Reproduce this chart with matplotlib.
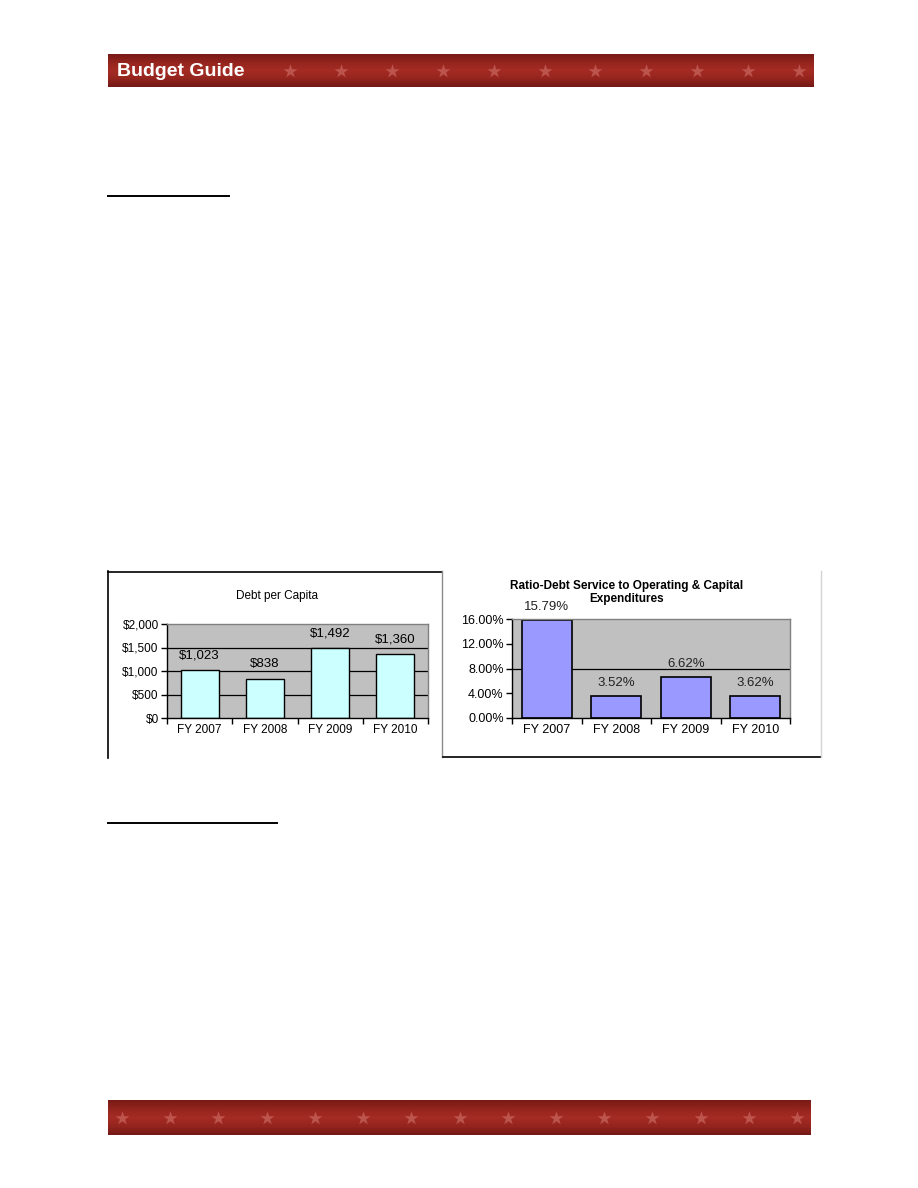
import numpy as np
import matplotlib
matplotlib.use("Agg")
import matplotlib.pyplot as plt
from matplotlib.colors import LinearSegmentedColormap

plt.rcParams["font.family"] = ["Liberation Sans", "DejaVu Sans"]

# data
years = ["FY 2007", "FY 2008", "FY 2009", "FY 2010"]
debt_per_capita = [1023, 838, 1492, 1360]
debt_labels = ["$1,023", "$838", "$1,492", "$1,360"]
debt_ratio = [15.79, 3.52, 6.62, 3.62]
ratio_labels = ["15.79%", "3.52%", "6.62%", "3.62%"]

W, H = 918, 1188
fig = plt.figure(figsize=(W / 100, H / 100), dpi=100)


def px_axes(x0, y0, x1, y1, **kw):
    return fig.add_axes([x0 / W, 1 - y1 / H, (x1 - x0) / W, (y1 - y0) / H], **kw)


# page overlay in pixel coordinates
page = fig.add_axes([0, 0, 1, 1], zorder=0)
page.set_xlim(0, W)
page.set_ylim(H, 0)
page.axis("off")

banner_cmap = LinearSegmentedColormap.from_list(
    "banner", ["#781a16", "#94241e", "#a52c24", "#94241e", "#741915"])


def banner(x0, y0, x1, y1, n_stars, star_start):
    ax = px_axes(x0, y0, x1, y1, zorder=1)
    grad = np.linspace(0, 1, 64).reshape(-1, 1)
    ax.imshow(grad, cmap=banner_cmap, aspect="auto", extent=(x0, x1, y1, y0))
    ax.set_xlim(x0, x1)
    ax.set_ylim(y1, y0)
    ax.axis("off")
    xs = np.linspace(star_start, x1 - 14, n_stars)
    ax.scatter(xs, np.full(n_stars, (y0 + y1) / 2), marker="*", s=110,
               color="#c8675f", alpha=0.7, linewidths=0)
    return ax


hdr = banner(108, 54, 813, 87, 11, 290)
hdr.text(117, 71, "Budget Guide", color="white", fontsize=14,
         fontweight="bold", va="center", ha="left")
banner(108, 1100, 811, 1135, 15, 122)

# section underlines
page.plot([108, 229], [196, 196], color="black", lw=1.4)
page.plot([108, 277], [823, 823], color="black", lw=1.4)

# chart frames
page.plot([108, 108], [571, 758], color="black", lw=1.2)
page.plot([108, 442], [572, 572], color="black", lw=1.2)
page.plot([442, 442], [571, 757], color="#8a8a8a", lw=1.0)
page.plot([443, 821], [757, 757], color="black", lw=1.2)
page.plot([821, 821], [571, 757], color="#d4d4d4", lw=1.0)


def style_axes(ax, n, fs):
    ax.set_facecolor("#c0c0c0")
    ax.set_xlim(-0.5, n - 0.5)
    ax.set_xticks(range(n))
    ax.set_xticklabels(years, fontsize=fs)
    ax.set_xticks(np.arange(-0.5, n, 1.0), minor=True)
    ax.tick_params(axis="x", which="major", length=0, pad=4)
    ax.tick_params(axis="x", which="minor", length=4, direction="out", width=1)
    ax.tick_params(axis="y", length=4, direction="out", width=1,
                   labelsize=fs, pad=2)
    for s in ("left", "bottom"):
        ax.spines[s].set_color("black")
        ax.spines[s].set_linewidth(1.0)
    for s in ("top", "right"):
        ax.spines[s].set_color("#808080")
        ax.spines[s].set_linewidth(1.0)


# left chart: Debt per Capita
ax1 = px_axes(167, 624, 428, 718, zorder=2)
style_axes(ax1, len(years), 8.5)
ax1.set_ylim(0, 2000)
ax1.set_yticks([0, 500, 1000, 1500, 2000])
ax1.set_yticklabels(["$0", "$500", "$1,000", "$1,500", "$2,000"])
for g in [500, 1000, 1500]:
    ax1.axhline(g, color="black", lw=0.9, zorder=1)
bars1 = ax1.bar(range(len(years)), debt_per_capita, width=0.58,
                color="#ccffff", edgecolor="black", linewidth=1.0, zorder=2)
for b, lab in zip(bars1, debt_labels):
    ax1.annotate(lab, (b.get_x() + b.get_width() / 2, b.get_height()),
                 xytext=(0, 6), textcoords="offset points",
                 ha="center", va="bottom", fontsize=9.5)
fig.text(277 / W, 1 - 596 / H, "Debt per Capita", ha="center", va="center",
         fontsize=8.5)

# right chart: Ratio-Debt Service
ax2 = px_axes(512, 619, 790, 718, zorder=2)
style_axes(ax2, len(years), 9)
ax2.set_ylim(0, 16)
ax2.set_yticks([0, 4, 8, 12, 16])
ax2.set_yticklabels([f"{v:.2f}%" for v in [0, 4, 8, 12, 16]])
ax2.axhline(8, color="black", lw=0.9, zorder=1)
bars2 = ax2.bar(range(len(years)), debt_ratio, width=0.72,
                color="#9999ff", edgecolor="black", linewidth=1.2, zorder=2)
for b, lab in zip(bars2, ratio_labels):
    ax2.annotate(lab, (b.get_x() + b.get_width() / 2, b.get_height()),
                 xytext=(0, 5), textcoords="offset points",
                 ha="center", va="bottom", fontsize=9.5, color="#222222")
fig.text(627 / W, 1 - 586 / H, "Ratio-Debt Service to Operating & Capital",
         ha="center", va="center", fontsize=8.5, fontweight="bold")
fig.text(627 / W, 1 - 599 / H, "Expenditures",
         ha="center", va="center", fontsize=8.5, fontweight="bold")

fig.savefig("out.png", dpi=100, facecolor="white")
